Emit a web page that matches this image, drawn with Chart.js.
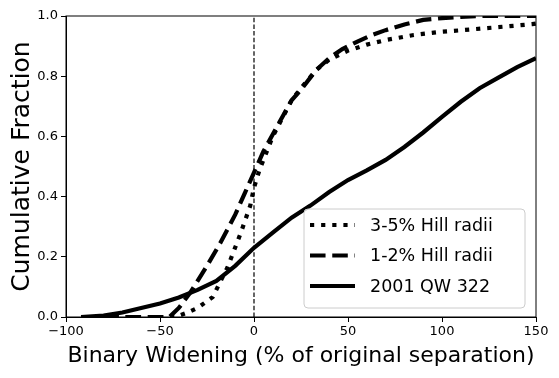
<!DOCTYPE html>
<html>
<head>
<meta charset="utf-8">
<script src="https://cdn.jsdelivr.net/npm/chart.js@4"></script>
<style>
  html, body { margin: 0; padding: 0; background: #fff; }
  #wrap { width: 559px; height: 378px; position: relative; }
</style>
</head>
<body>
<div id="wrap"><canvas id="cdfChart"></canvas></div>
<script>
// values
const hill35X = [-92, -42, -36, -30, -22, -14, -7, -2, 0, 3, 10, 20, 25, 33, 40, 50, 60, 70, 85, 100, 111, 130, 148, 150];
const hill35Y = [0, 0, 0.013, 0.03, 0.066, 0.166, 0.28, 0.37, 0.43, 0.49, 0.6, 0.72, 0.76, 0.82, 0.855, 0.885, 0.905, 0.92, 0.937, 0.948, 0.953, 0.963, 0.973, 0.975];

const hill12X = [-92, -45, -40, -34, -25, -18, -10, -5, 0, 5, 12, 20, 25, 33, 40, 47, 55, 62, 70, 80, 90, 100, 110, 120, 150];
const hill12Y = [0, 0, 0.03, 0.08, 0.17, 0.245, 0.34, 0.41, 0.48, 0.55, 0.63, 0.72, 0.755, 0.82, 0.86, 0.89, 0.915, 0.935, 0.953, 0.972, 0.987, 0.993, 0.997, 1.0, 1.0];

const qwX = [-92, -80, -70, -60, -50, -40, -30, -20, -10, 0, 10, 20, 30, 40, 50, 60, 70, 80, 90, 100, 110, 120, 130, 140, 150];
const qwY = [0, 0.005, 0.015, 0.03, 0.045, 0.065, 0.09, 0.12, 0.17, 0.23, 0.28, 0.33, 0.37, 0.415, 0.455, 0.487, 0.522, 0.565, 0.613, 0.665, 0.715, 0.76, 0.795, 0.83, 0.86];

const seriesLabels = ['3-5% Hill radii', '1-2% Hill radii', '2001 QW 322'];
const xTicks = [-100, -50, 0, 50, 100, 150];
const yTicks = [0, 0.2, 0.4, 0.6, 0.8, 1.0];

const FONT = "'DejaVu Sans', sans-serif";
const LW = 4.2;
const dotDash = [LW * 1, LW * 1.65];
const longDash = [LW * 3.7, LW * 1.6];

function toPoints(xs, ys) {
    return xs.map((x, i) => ({ x: x, y: ys[i] }));
}

// matplotlib-like frame and legend box inside the plot
const framePlugin = {
    id: 'frame',
    afterDraw(chart) {
        const { ctx, chartArea: a } = chart;
        ctx.save();
        ctx.strokeStyle = '#000';
        ctx.lineWidth = 1;
        ctx.strokeRect(a.left, a.top, a.right - a.left, a.bottom - a.top);

        // legend
        const bx = 304, by = 209, bw = 221, bh = 99;
        ctx.fillStyle = 'rgba(255,255,255,0.8)';
        ctx.strokeStyle = '#cccccc';
        ctx.beginPath();
        ctx.roundRect(bx, by, bw, bh, 4);
        ctx.fill();
        ctx.stroke();

        const styles = [dotDash, longDash, []];
        ctx.font = '17.5px ' + FONT;
        ctx.textBaseline = 'middle';
        seriesLabels.forEach((lab, i) => {
            const yy = by + 16 + i * 30.5;
            ctx.strokeStyle = '#000';
            ctx.lineWidth = LW;
            ctx.lineCap = 'butt';
            ctx.setLineDash(styles[i]);
            ctx.beginPath();
            ctx.moveTo(310, yy);
            ctx.lineTo(355, yy);
            ctx.stroke();
            ctx.setLineDash([]);
            ctx.fillStyle = '#000';
            ctx.fillText(lab, 370, yy + 1);
        });
        ctx.restore();
    }
};

new Chart(document.getElementById('cdfChart'), {
    type: 'line',
    data: {
        datasets: [
            { label: 'zero', data: [{ x: 0, y: 0 }, { x: 0, y: 1 }], borderColor: '#000', borderWidth: 1.2, borderDash: [4.5, 2.2], pointRadius: 0, order: 4 },
            { label: seriesLabels[0], data: toPoints(hill35X, hill35Y), borderColor: '#000', borderWidth: LW, borderDash: dotDash, pointRadius: 0, tension: 0, order: 3 },
            { label: seriesLabels[1], data: toPoints(hill12X, hill12Y), borderColor: '#000', borderWidth: LW, borderDash: longDash, pointRadius: 0, tension: 0, order: 2 },
            { label: seriesLabels[2], data: toPoints(qwX, qwY), borderColor: '#000', borderWidth: LW, pointRadius: 0, tension: 0, order: 1 }
        ]
    },
    options: {
        responsive: true, maintainAspectRatio: false, animation: false,
        layout: { padding: { left: 7, right: 23, top: 16, bottom: 9 } },
        plugins: { legend: { display: false }, tooltip: { enabled: false } },
        scales: {
            x: {
                type: 'linear', min: -100, max: 150,
                afterBuildTicks: s => { s.ticks = xTicks.map(v => ({ value: v })); },
                afterFit: s => { s.height = 52; },
                ticks: { color: '#000', font: { family: FONT, size: 13 }, padding: 2, maxRotation: 0,
                         callback: v => String(v).replace('-', '\u2212') },
                grid: { drawOnChartArea: false, drawTicks: true, tickLength: 5, color: '#000' },
                border: { display: true, color: '#000' },
                title: { display: true, text: 'Binary Widening (% of original separation)', color: '#000',
                         font: { family: FONT, size: 22 }, padding: { top: 0, bottom: 0 } }
            },
            y: {
                type: 'linear', min: 0, max: 1,
                afterBuildTicks: s => { s.ticks = yTicks.map(v => ({ value: v })); },
                afterFit: s => { s.width = 59; },
                ticks: { color: '#000', font: { family: FONT, size: 13 }, padding: 3,
                         callback: v => v.toFixed(1) },
                grid: { drawOnChartArea: false, drawTicks: true, tickLength: 5, color: '#000' },
                border: { display: true, color: '#000' },
                title: { display: true, text: 'Cumulative Fraction', color: '#000',
                         font: { family: FONT, size: 25 }, padding: { top: 0, bottom: 0 } }
            }
        }
    },
    plugins: [framePlugin]
});
</script>
</body>
</html>
